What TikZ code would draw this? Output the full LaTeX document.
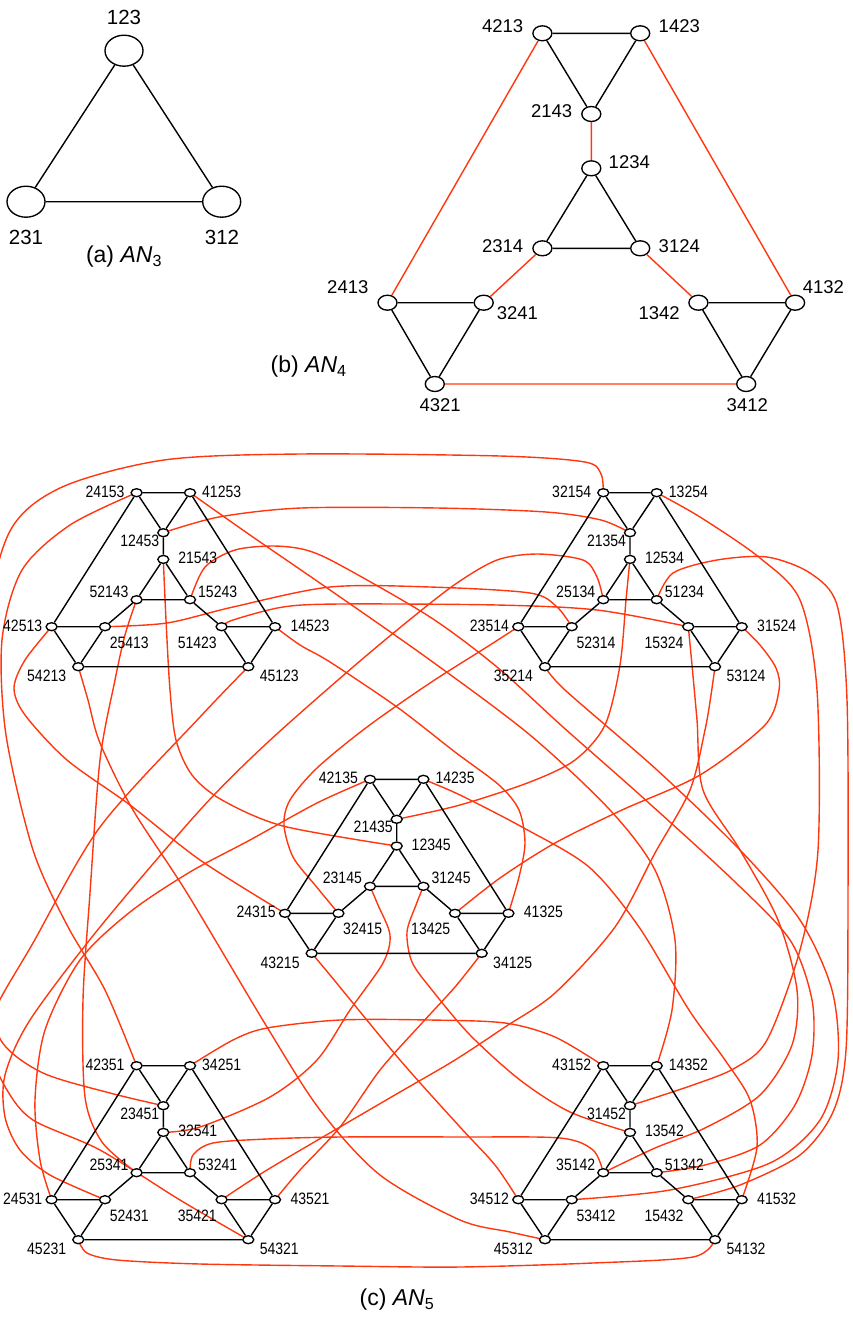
\documentclass[tikz,border=0pt]{standalone}
\usepackage{fontspec}
\setmainfont{Liberation Sans}
\newfontfamily\narrowsans{Liberation Sans}[FakeStretch=0.85]
\usetikzlibrary{shapes.geometric,backgrounds}
\definecolor{linkred}{RGB}{255,55,15}
\tikzset{
  vtx/.style={ellipse, draw, fill=white, line width=1.35pt, inner sep=0pt, minimum width=11pt, minimum height=8pt},
  midvtx/.style={vtx, minimum width=19pt, minimum height=15pt},
  bigvtx/.style={vtx, minimum width=38pt, minimum height=31pt},
  lab/.style={inner sep=0pt, font=\narrowsans\fontsize{16.5}{18}\selectfont},
  midlab/.style={inner sep=0pt, font=\fontsize{18.5}{20}\selectfont},
  biglab/.style={inner sep=0pt, font=\fontsize{20.5}{23}\selectfont},
  caption/.style={inner sep=0pt, font=\fontsize{23}{26}\selectfont},
  blk/.style={line width=1.4pt},
  redlink/.style={linkred, line width=1.4pt},
}
\begin{document}
\begin{tikzpicture}[x=1pt,y=-1pt]
  \useasboundingbox (0,0) rectangle (852,1318);

  % (a) AN_3
  \node[bigvtx] (v123) at (124,50.7) {};
  \node[bigvtx] (v231) at (26,201.7) {};
  \node[bigvtx] (v312) at (221.7,201.7) {};
  \node[biglab] (t123) at (124,17) {123};
  \node[biglab] (t231) at (26,237) {231};
  \node[biglab] (t312) at (222,237) {312};
  \draw[blk] (v123) -- (v231) -- (v312) -- (v123);
  \node[caption] (capa) at (124,257) {(a) \textit{AN}\textsubscript{3}};

  % (b) AN_4
  \node[midvtx] (m4213) at (542.4,33.3) {};
  \node[midvtx] (m1423) at (640.2,33.3) {};
  \node[midvtx] (m2143) at (591.3,114) {};
  \node[midvtx] (m1234) at (591.3,168.3) {};
  \node[midvtx] (m2314) at (542.4,248.3) {};
  \node[midvtx] (m3124) at (640.2,248.3) {};
  \node[midvtx] (m2413) at (387.5,302.7) {};
  \node[midvtx] (m3241) at (483.7,302.7) {};
  \node[midvtx] (m1342) at (698.4,302.7) {};
  \node[midvtx] (m4132) at (795.1,302.7) {};
  \node[midvtx] (m4321) at (434.8,384) {};
  \node[midvtx] (m3412) at (746.2,384) {};
  \node[midlab] (t4213) at (502.7,26) {4213};
  \node[midlab] (t1423) at (679.3,26) {1423};
  \node[midlab] (t2143) at (551.6,110.7) {2143};
  \node[midlab] (t1234) at (629.3,161.7) {1234};
  \node[midlab] (t2314) at (502.7,246) {2314};
  \node[midlab] (t3124) at (679.3,246) {3124};
  \node[midlab] (t2413) at (347.8,287.3) {2413};
  \node[midlab] (t3241) at (517.4,312.7) {3241};
  \node[midlab] (t1342) at (659.2,312.7) {1342};
  \node[midlab] (t4132) at (823.4,287.3) {4132};
  \node[midlab] (t4321) at (440.2,405) {4321};
  \node[midlab] (t3412) at (747.3,405) {3412};
  \draw[blk] (m4213) -- (m1423) -- (m2143) -- (m4213);
  \draw[blk] (m1234) -- (m2314) -- (m3124) -- (m1234);
  \draw[blk] (m2413) -- (m3241) -- (m4321) -- (m2413);
  \draw[blk] (m1342) -- (m4132) -- (m3412) -- (m1342);
  \draw[redlink] (m2143) -- (m1234) (m2314) -- (m3241) (m3124) -- (m1342);
  \draw[redlink] (m4213) -- (m2413) (m1423) -- (m4132) (m4321) -- (m3412);
  \node[caption] (capb) at (308.7,366.7) {(b) \textit{AN}\textsubscript{4}};

  % (c) AN_5: five copies of AN_4
  \foreach \ox/\oy/\tA/\tB/\tC/\cA/\cB/\cC/\lA/\lB/\lC/\rA/\rB/\rC in {
      163.3/492.7/24153/41253/12453/21543/52143/15243/42513/25413/54213/51423/14523/45123,
      630/492.7/32154/13254/21354/12534/25134/51234/23514/52314/35214/15324/31524/53124,
      396.7/779.3/42135/14235/21435/12345/23145/31245/24315/32415/43215/13425/41325/34125,
      163.3/1065.7/42351/34251/23451/32541/25341/53241/24531/52431/45231/35421/43521/54321,
      630/1065.7/43152/14352/31452/13542/35142/51342/34512/53412/45312/15432/41532/54132}{
    \node[vtx] (n\tA) at (\ox-26.7,\oy) {};
    \node[vtx] (n\tB) at (\ox+26.7,\oy) {};
    \node[vtx] (n\tC) at (\ox,\oy+40) {};
    \node[vtx] (n\cA) at (\ox,\oy+66.7) {};
    \node[vtx] (n\cB) at (\ox-26.7,\oy+107) {};
    \node[vtx] (n\cC) at (\ox+26.7,\oy+107) {};
    \node[vtx] (n\lA) at (\ox-111.7,\oy+134) {};
    \node[vtx] (n\lB) at (\ox-58.3,\oy+134) {};
    \node[vtx] (n\lC) at (\ox-85,\oy+174) {};
    \node[vtx] (n\rA) at (\ox+58.3,\oy+134) {};
    \node[vtx] (n\rB) at (\ox+111.7,\oy+134) {};
    \node[vtx] (n\rC) at (\ox+85,\oy+174) {};
    \node[lab] (t\tA) at (\ox-58.3,\oy-1) {\tA};
    \node[lab] (t\tB) at (\ox+58.4,\oy-1) {\tB};
    \node[lab] (t\tC) at (\ox-23.5,\oy+48) {\tC};
    \node[lab] (t\cA) at (\ox+34.5,\oy+65.5) {\cA};
    \node[lab] (t\cB) at (\ox-54.3,\oy+99) {\cB};
    \node[lab] (t\cC) at (\ox+54.4,\oy+99) {\cC};
    \node[lab] (t\lA) at (\ox-140.6,\oy+133) {\lA};
    \node[lab] (t\lB) at (\ox-34,\oy+150) {\lB};
    \node[lab] (t\lC) at (\ox-116.6,\oy+183.3) {\lC};
    \node[lab] (t\rA) at (\ox+34,\oy+150) {\rA};
    \node[lab] (t\rB) at (\ox+146.7,\oy+133) {\rB};
    \node[lab] (t\rC) at (\ox+116,\oy+183.3) {\rC};
    \draw[blk] (n\tA) -- (n\tB) -- (n\tC) -- (n\tA);
    \draw[blk] (n\tC) -- (n\cA) -- (n\cB) -- (n\cC) -- (n\cA);
    \draw[blk] (n\cB) -- (n\lB) (n\cC) -- (n\rA);
    \draw[blk] (n\lA) -- (n\lB) -- (n\lC) -- (n\lA);
    \draw[blk] (n\rA) -- (n\rB) -- (n\rC) -- (n\rA);
    \draw[blk] (n\tA) -- (n\lA) (n\tB) -- (n\rB) (n\lC) -- (n\rC);
  }
  \node[caption] (capc) at (397,1300) {(c) \textit{AN}\textsubscript{5}};

  % links between the copies
  \begin{scope}[on background layer]
    \clip (0,0) rectangle (852,1318);
    \draw[redlink] plot[smooth] coordinates {(n24153) (70,525) (22,570) (2,640) (6,735) (33,850) (67,925) (105,990) (n42351)};
    \draw[redlink] plot[smooth] coordinates {(n32154) (601,474) (585,462) (500,456) (300,454) (164,460) (60,488) (8,535) (-15,650) (-18,900) (-12,990) (2,1042) (43,1073) (110,1093) (n23451)};
    \draw[redlink] plot[smooth] coordinates {(n41253) (250,535) (330,590) (430,660) (530,735) (610,810) (655,870) (675,940) (672,1010) (n14352)};
    \draw[redlink] plot[smooth] coordinates {(n12453) (219,517) (301,508) (437,508) (546,512) (601,520) (n21354)};
    \draw[redlink] plot[smooth] coordinates {(n21543) (166,620) (170,690) (176,740) (192,775) (222,800) (283,826) (n12345)};
    \draw[redlink] plot[smooth] coordinates {(n52143) (125,635) (115,680) (100,760) (90,893) (83,1000) (85,1097) (102,1142) (n25341)};
    \draw[redlink] plot[smooth] coordinates {(n15243) (205,567) (235,550) (273,546) (306,550) (340,565) (430,617) (497,667) (563,727) (640,795) (733,880) (790,940) (812,1000) (812,1055) (795,1105) (760,1145) (705,1165) (n51342)};
    \draw[redlink] plot[smooth] coordinates {(n42513) (25,660) (14,688) (25,715) (67,760) (130,805) (200,860) (n24315)};
    \draw[redlink] plot[smooth] coordinates {(n25413) (167,623) (233,607) (330,587) (430,587) (530,593) (557,607) (n52314)};
    \draw[redlink] plot[smooth] coordinates {(n51423) (233,620) (283,607) (340,604) (497,605) (597,610) (n15324)};
    \draw[redlink] plot[smooth] coordinates {(n14523) (300,645) (330,662) (397,707) (455,752) (499,785) (519,810) (525,843) (519,877) (n41325)};
    \draw[redlink] plot[smooth] coordinates {(n54213) (88,700) (100,743) (133,810) (187,893) (267,1027) (320,1110) (380,1175) (460,1220) (510,1232) (n45312)};
    \draw[redlink] plot[smooth] coordinates {(n45123) (200,717) (100,827) (33,943) (-5,1010) (-10,1050) (7,1090) (33,1120) (100,1150) (180,1200) (n54321)};
    \draw[redlink] plot[smooth] coordinates {(n13254) (700,517) (760,558) (800,600) (817,690) (818,850) (800,950) (767,1040) (735,1068) (693,1085) (n31452)};
    \draw[redlink] plot[smooth] coordinates {(n12534) (626,600) (620,665) (605,725) (575,760) (530,782) (460,805) (n21435)};
    \draw[redlink] plot[smooth] coordinates {(n25134) (597,577) (583,560) (537,554) (497,560) (457,583) (413,617) (353,667) (267,743) (200,810) (100,927) (30,1020) (5,1075) (5,1117) (20,1150) (50,1175) (n52431)};
    \draw[redlink] plot[smooth] coordinates {(n51234) (673,573) (717,560) (767,557) (810,573) (837,605) (847,700) (848,900) (846,1050) (833,1112) (800,1155) (740,1185) (n15432)};
    \draw[redlink] plot[smooth] coordinates {(n23514) (490,645) (430,683) (367,727) (317,768) (290,800) (284,825) (293,857) (315,885) (n32415)};
    \draw[redlink] plot[smooth] coordinates {(n31524) (760,645) (776,668) (779,690) (765,725) (700,775) (622,810) (555,843) (500,878) (n13425)};
    \draw[redlink] plot[smooth] coordinates {(n35214) (565,690) (657,770) (740,850) (800,920) (832,990) (838,1060) (820,1120) (770,1163) (670,1190) (n53412)};
    \draw[redlink] plot[smooth] coordinates {(n53124) (711,695) (705,730) (690,790) (655,853) (615,927) (555,993) (505,1027) (455,1060) (400,1092) (340,1127) (267,1170) (n35421)};
    \draw[redlink] plot[smooth] coordinates {(n42135) (317,803) (250,840) (190,872) (130,912) (80,960) (45,1030) (35,1100) (40,1160) (n24531)};
    \draw[redlink] plot[smooth] coordinates {(n14235) (460,795) (522,827) (589,867) (639,927) (689,1010) (725,1060) (750,1100) (757,1147) (n41532)};
    \draw[redlink] plot[smooth] coordinates {(n23145) (378,905) (390,935) (383,963) (350,1010) (317,1060) (270,1097) (200,1127) (n32541)};
    \draw[redlink] plot[smooth] coordinates {(n31245) (416,905) (407,932) (412,962) (432,990) (470,1035) (520,1080) (570,1112) (n13542)};
    \draw[redlink] plot[smooth] coordinates {(n43215) (330,975) (400,1060) (460,1127) (495,1165) (n34512)};
    \draw[redlink] plot[smooth] coordinates {(n34125) (455,987) (422,1023) (380,1070) (340,1127) (300,1170) (n43521)};
    \draw[redlink] plot[smooth] coordinates {(n34251) (233,1040) (267,1028) (340,1020) (430,1020) (505,1023) (555,1037) (n43152)};
    \draw[redlink] plot[smooth] coordinates {(n53241) (193,1155) (213,1143) (267,1139) (340,1137) (460,1137) (560,1138) (593,1150) (n35142)};
    \draw[redlink] plot[smooth] coordinates {(n45231) (87,1253) (117,1260) (200,1264) (340,1266) (460,1267) (593,1263) (693,1257) (n54132)};
    \draw[redlink] plot[smooth] coordinates {(n15324) (692,665) (697,720) (703,790) (740,850) (778,920) (797,990) (792,1045) (760,1095) (705,1128) (655,1148) (n35142)};
  \end{scope}
\end{tikzpicture}
\end{document}
